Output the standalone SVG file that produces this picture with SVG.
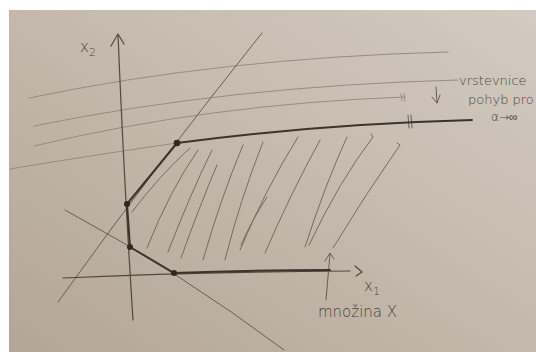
<svg xmlns="http://www.w3.org/2000/svg" width="536" height="352" viewBox="0 0 536 352">
  <defs>
    <linearGradient id="paper" x1="0" y1="1" x2="1" y2="0">
      <stop offset="0" stop-color="#b3a696"/>
      <stop offset="0.5" stop-color="#c3b8ab"/>
      <stop offset="1" stop-color="#d3cbc1"/>
    </linearGradient>
    <style>
      .faint { fill: none; stroke: #968d82; stroke-width: 1; stroke-linecap: round; }
      .thin { fill: none; stroke: #5e564c; stroke-width: 0.9; stroke-linecap: round; }
      .axis { fill: none; stroke: #4f483f; stroke-width: 1.2; stroke-linecap: round; stroke-linejoin: round; }
      .thick { fill: none; stroke: #3a342c; stroke-width: 2; stroke-linecap: round; stroke-linejoin: round; }
      .hatch { fill: none; stroke: #756c60; stroke-width: 1; stroke-linecap: round; }
      .dot { fill: #2e2922; }
      .hand { font-family: "DejaVu Sans", "Liberation Sans", sans-serif; font-weight: 200; fill: #4a443c; }
    </style>
  </defs>

  <rect x="0" y="0" width="536" height="352" fill="#ffffff"/>
  <rect x="9" y="10" width="527" height="342" fill="url(#paper)"/>

  <g id="level-lines">
    <path class="faint" d="M29,98 Q220,58 448,52"/>
    <path class="faint" d="M34,126 Q230,86 458,80"/>
    <path class="faint" d="M34,146 Q210,104 405,97"/>
    <path class="faint" d="M10,169 Q100,154 177,143"/>
    <path class="faint" d="M401,94 L402,101 M404,94 L405,101"/>
    <path class="thin" d="M408,115 L409,128 M411,115 L412,128"/>
    <path class="thin" d="M436,87 L437,103 M432,97 L437,103 L440,95"/>
  </g>

  <g id="constraints">
    <path class="thin" d="M262,33 Q160,160 58,302"/>
    <path class="thin" d="M65,210 Q180,272 284,350"/>
  </g>

  <g id="axes">
    <path class="axis" d="M133,320 Q124,180 118,35"/>
    <path class="axis" d="M111,46 L118,34 L124,44"/>
    <path class="axis" d="M63,278 Q200,272 350,271"/>
    <path class="axis" d="M355,266 L362,272 L356,276"/>
    <path class="thin" d="M326,300 L330,254 M325,261 L330,253 L334,259"/>
  </g>

  <g id="hatching">
    <path class="hatch" d="M132,212 Q160,175 190,148"/>
    <path class="hatch" d="M147,248 Q170,190 198,150"/>
    <path class="hatch" d="M168,252 Q190,195 212,150"/>
    <path class="hatch" d="M181,258 Q200,205 217,165"/>
    <path class="hatch" d="M203,260 Q220,200 243,145"/>
    <path class="hatch" d="M225,260 Q240,200 263,142"/>
    <path class="hatch" d="M240,250 Q265,190 298,137"/>
    <path class="hatch" d="M241,245 Q252,220 267,197"/>
    <path class="hatch" d="M265,253 Q290,195 320,140"/>
    <path class="hatch" d="M305,247 Q325,185 347,137"/>
    <path class="hatch" d="M309,245 Q340,180 373,137 L371,134"/>
    <path class="hatch" d="M333,248 Q365,195 400,145 L397,143"/>
  </g>

  <g id="feasible-set">
    <path class="thick" d="M174,273 Q250,270 330,270"/>
    <path class="thick" d="M174,273 L130,247 L127,204 L177,143"/>
    <path class="thick" d="M177,143 Q320,124 472,120"/>
    <circle class="dot" cx="177" cy="143" r="3.3"/>
    <circle class="dot" cx="127" cy="204" r="3"/>
    <circle class="dot" cx="130" cy="247" r="3"/>
    <circle class="dot" cx="174" cy="273" r="3"/>
  </g>

  <g id="labels">
    <text class="hand" x="80" y="52" font-size="15">x<tspan font-size="11" dy="4">2</tspan></text>
    <text class="hand" x="364" y="291" font-size="15">x<tspan font-size="11" dy="4">1</tspan></text>
    <text class="hand" x="318" y="317" font-size="15">množina X</text>
    <text class="hand" x="459" y="85" font-size="13">vrstevnice</text>
    <text class="hand" x="468" y="104" font-size="13">pohyb pro</text>
    <text class="hand" x="491" y="121" font-size="12">α→∞</text>
  </g>
</svg>
